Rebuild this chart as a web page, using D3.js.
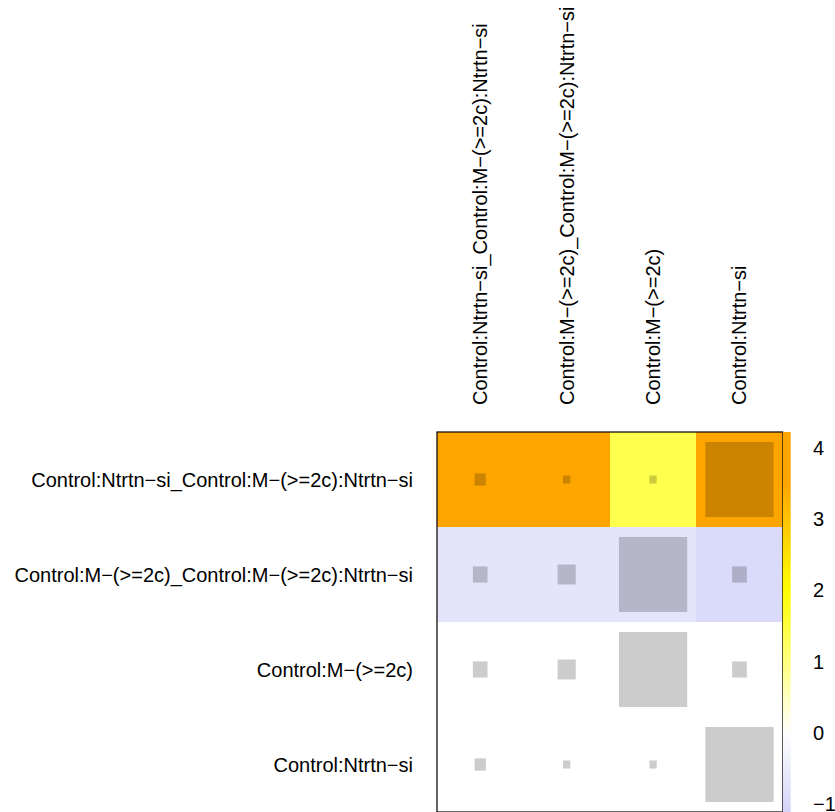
<!DOCTYPE html>
<html>
<head>
<meta charset="utf-8">
<script src="https://cdn.jsdelivr.net/npm/d3@7"></script>
<style>
	body { margin: 0; background: #fff; }
	text { font-family: "Liberation Sans", Arial, sans-serif; fill: #000; }
</style>
</head>
<body>
<div id="chart"></div>
<script>
var rowLabels = [
	'Control:Ntrtn\u2212si_Control:M\u2212(>=2c):Ntrtn\u2212si',
	'Control:M\u2212(>=2c)_Control:M\u2212(>=2c):Ntrtn\u2212si',
	'Control:M\u2212(>=2c)',
	'Control:Ntrtn\u2212si'
];
var colLabels = [
	'Control:Ntrtn\u2212si_Control:M\u2212(>=2c):Ntrtn\u2212si',
	'Control:M\u2212(>=2c)_Control:M\u2212(>=2c):Ntrtn\u2212si',
	'Control:M\u2212(>=2c)',
	'Control:Ntrtn\u2212si'
];
// cell colour value (row by row)
var cellValues = [
	[4.2, 4.2, 1.4, 4.2],
	[-0.7, -0.7, -0.7, -0.95],
	[0, 0, 0, 0],
	[0, 0, 0, 0]
];
// inner square size, share of the cell
var squareSizes = [
	[0.13, 0.085, 0.085, 0.79],
	[0.17, 0.21, 0.79, 0.17],
	[0.17, 0.21, 0.79, 0.17],
	[0.13, 0.085, 0.085, 0.79]
];
var legendTicks = [-1, 0, 1, 2, 3, 4];

(function() {
	var width = 835, height = 812;
	var left = 437, right = 782.7, top = 432, bottom = 812;
	var svg = d3.select('#chart').append('svg')
		.attr('width', width)
		.attr('height', height);

	var x = d3.scaleBand().domain(d3.range(colLabels.length)).range([left, right]);
	var y = d3.scaleBand().domain(d3.range(rowLabels.length)).range([top, bottom]);

	var color = d3.scaleLinear()
		.domain([-1.11, 0, 2, 3.5])
		.range(['#d4d4f9', '#ffffff', '#ffff00', '#ffa500'])
		.clamp(true);

	var cells = [];
	cellValues.forEach(function(row, i) {
		row.forEach(function(v, j) {
			cells.push({ r: i, c: j, v: v, s: squareSizes[i][j] });
		});
	});

	var grid = svg.append('g').attr('class', 'cells');
	grid.selectAll('rect.bg')
		.data(cells)
		.enter()
		.append('rect')
		.attr('class', 'bg')
		.attr('x', function(d) { return x(d.c); })
		.attr('y', function(d) { return y(d.r); })
		.attr('width', x.bandwidth() + 0.5)
		.attr('height', y.bandwidth() + 0.5)
		.attr('shape-rendering', 'crispEdges')
		.attr('fill', function(d) { return color(d.v); });

	grid.selectAll('rect.sq')
		.data(cells)
		.enter()
		.append('rect')
		.attr('class', 'sq')
		.attr('x', function(d) { return x(d.c) + x.bandwidth() * (1 - d.s) / 2; })
		.attr('y', function(d) { return y(d.r) + y.bandwidth() * (1 - d.s) / 2; })
		.attr('width', function(d) { return x.bandwidth() * d.s; })
		.attr('height', function(d) { return y.bandwidth() * d.s; })
		.attr('fill', '#000')
		.attr('fill-opacity', 0.2);

	svg.append('rect')
		.attr('x', left)
		.attr('y', top)
		.attr('width', right - left)
		.attr('height', bottom - top)
		.attr('fill', 'none')
		.attr('stroke', '#000')
		.attr('stroke-width', 1.2);

	// row labels
	svg.append('g').selectAll('text')
		.data(rowLabels)
		.enter()
		.append('text')
		.attr('x', left - 24)
		.attr('y', function(d, i) { return y(i) + y.bandwidth() / 2; })
		.attr('dy', '0.35em')
		.attr('text-anchor', 'end')
		.style('font-size', '20px')
		.text(function(d) { return d; });

	// column labels
	svg.append('g').selectAll('text')
		.data(colLabels)
		.enter()
		.append('text')
		.attr('transform', function(d, i) {
			return 'translate(' + (x(i) + x.bandwidth() / 2) + ',' + (top - 27) + ') rotate(-90)';
		})
		.attr('dy', '0.35em')
		.attr('text-anchor', 'start')
		.style('font-size', '20px')
		.text(function(d) { return d; });

	// colour bar
	var barTop = top, barBottom = 812, barX = 782.7, barW = 8;
	var ly = d3.scaleLinear().domain([-1, 4]).range([804, 448]);
	var lo = ly.invert(barBottom), hi = ly.invert(barTop);
	var defs = svg.append('defs');
	var grad = defs.append('linearGradient')
		.attr('id', 'barGrad')
		.attr('x1', 0).attr('y1', 1)
		.attr('x2', 0).attr('y2', 0);
	d3.range(0, 1.0001, 0.02).forEach(function(t) {
		grad.append('stop')
			.attr('offset', t)
			.attr('stop-color', color(lo + (hi - lo) * t));
	});
	svg.append('rect')
		.attr('x', barX)
		.attr('y', barTop)
		.attr('width', barW)
		.attr('height', barBottom - barTop)
		.attr('fill', 'url(#barGrad)');

	svg.append('g').selectAll('text')
		.data(legendTicks)
		.enter()
		.append('text')
		.attr('x', 813)
		.attr('y', function(d) { return ly(d); })
		.attr('dy', '0.35em')
		.style('font-size', '20px')
		.text(function(d) { return d < 0 ? '\u2212' + Math.abs(d) : d; });
})();
</script>
</body>
</html>
